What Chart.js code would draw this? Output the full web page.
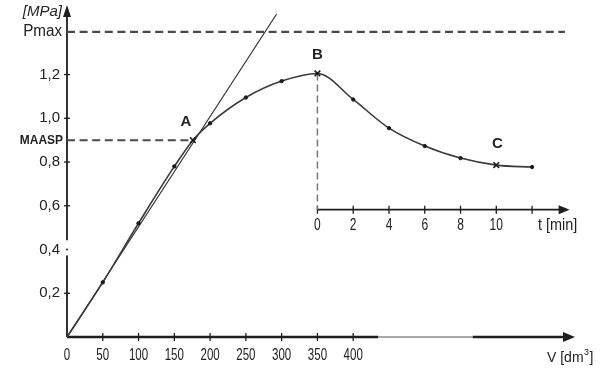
<!DOCTYPE html>
<html><head><meta charset="utf-8">
<script src="https://cdn.jsdelivr.net/npm/chart.js@4/dist/chart.umd.min.js"></script>
<style>html,body{margin:0;padding:0;background:#fff;}#wrap{width:600px;height:378px;}</style>
</head><body><div id="wrap"><canvas id="c" width="600" height="378"></canvas></div>
<script>
// ---- data ----
const fillVolume = [0, 50, 100, 150, 176, 200, 250, 300, 350];
const fillPressure = [0, 0.25, 0.52, 0.78, 0.90, 0.977, 1.095, 1.17, 1.205];
const shutInTime = [2, 4, 6, 8, 10, 12];
const shutInPressure = [1.086, 0.955, 0.873, 0.818, 0.786, 0.777];
const tangentVolume = [0, 293];
const tangentPressure = [0, 1.477];
const volumeTicks = [0, 50, 100, 150, 200, 250, 300, 350, 400];
const pressureTicks = [0.2, 0.4, 0.6, 0.8, 1.0, 1.2];
const pressureTickLabels = ['0,2', '0,4', '0,6', '0,8', '1,0', '1,2'];
const timeTicks = [0, 2, 4, 6, 8, 10, 12];
const timeTickLabels = ['0', '2', '4', '6', '8', '10', ''];
const pMax = 1.395;
const maasp = 0.9;
const markerLabels = ['A', 'B', 'C'];

// ---- construction constants ----
const V_MAX = 710, P_MAX_AXIS = 1.518;
const SHUT_IN_VOLUME = 350;     // t = 0 sits under B
const DM3_PER_MIN = 25;         // 2 min spacing == 50 dm3 spacing
const TIME_AXIS_P = 0.582;      // pressure level of the inset time axis
const A_INDEX = 4, B_INDEX = 8, C_INDEX = 8 + 5;

const curve = fillVolume.map((v, i) => ({x: v, y: fillPressure[i]}))
  .concat(shutInTime.map((t, i) => ({x: SHUT_IN_VOLUME + t * DM3_PER_MIN, y: shutInPressure[i]})));
const isCross = i => i === A_INDEX || i === B_INDEX || i === C_INDEX;
const pStyle = curve.map((_, i) => isCross(i) ? 'crossRot' : 'circle');
const pRadius = curve.map((_, i) => i === 0 ? 0 : (isCross(i) ? 4 : 1.7));
const pBorderW = curve.map((_, i) => isCross(i) ? 1.6 : 1);

const FONT = '"Liberation Sans", Arial, sans-serif';
const TXT = '#222';

function text(ctx, s, x, y, font, align, sx) {
  ctx.save();
  ctx.font = font; ctx.fillStyle = TXT;
  ctx.textAlign = align || 'center'; ctx.textBaseline = 'middle';
  ctx.translate(x, y); ctx.scale(sx || 1, 1);
  ctx.fillText(s, 0, 0);
  ctx.restore();
}

const axesPlugin = {
  id: 'axesPlugin',
  beforeDatasetsDraw(chart) {
    const ctx = chart.ctx, xs = chart.scales.x, ys = chart.scales.y, xt = chart.scales.xt;
    const x0 = xs.getPixelForValue(0), y0 = ys.getPixelForValue(0);
    const yTop = ys.getPixelForValue(P_MAX_AXIS);
    const xEnd = xs.getPixelForValue(V_MAX);
    ctx.save();
    ctx.strokeStyle = '#1e1e1e'; ctx.fillStyle = '#1e1e1e'; ctx.lineCap = 'butt';
    // y axis (with the small break at 0,4 seen in the reference)
    ctx.lineWidth = 1.8;
    ctx.beginPath();
    ctx.moveTo(x0, y0); ctx.lineTo(x0, ys.getPixelForValue(0.373));
    ctx.moveTo(x0, ys.getPixelForValue(0.442)); ctx.lineTo(x0, yTop + 10);
    ctx.stroke();
    ctx.beginPath(); ctx.moveTo(x0, yTop); ctx.lineTo(x0 - 4, yTop + 12); ctx.lineTo(x0 + 4, yTop + 12); ctx.closePath(); ctx.fill();
    // y ticks
    ctx.lineWidth = 1.3;
    pressureTicks.forEach((p, i) => {
      const y = ys.getPixelForValue(p);
      ctx.beginPath();
      if (p === 0.4) { ctx.arc(x0, y, 1, 0, Math.PI * 2); ctx.fill(); }
      else { ctx.moveTo(x0 - 3, y); ctx.lineTo(x0 + 3, y); ctx.stroke(); }
    });
    // x axis: thick / thin / thick as in the scan
    const xa = xs.getPixelForValue(435), xb = xs.getPixelForValue(567);
    ctx.lineWidth = 2.4;
    ctx.beginPath(); ctx.moveTo(x0, y0); ctx.lineTo(xa, y0); ctx.moveTo(xb, y0); ctx.lineTo(xEnd - 10, y0); ctx.stroke();
    ctx.lineWidth = 1.1; ctx.strokeStyle = '#555';
    ctx.beginPath(); ctx.moveTo(xa, y0); ctx.lineTo(xb, y0); ctx.stroke();
    ctx.strokeStyle = '#1e1e1e';
    ctx.beginPath(); ctx.moveTo(xEnd, y0); ctx.lineTo(xEnd - 12, y0 - 5); ctx.lineTo(xEnd - 12, y0 + 5); ctx.closePath(); ctx.fill();
    ctx.lineWidth = 1.3;
    volumeTicks.forEach(v => {
      if (v === 0) return;
      const x = xs.getPixelForValue(v);
      ctx.beginPath(); ctx.moveTo(x, y0 - 4); ctx.lineTo(x, y0 + 4); ctx.stroke();
    });
    // inset time axis
    const ty = ys.getPixelForValue(TIME_AXIS_P);
    const tx0 = xt.getPixelForValue(0);
    const txEnd = xt.getPixelForValue(14.1);
    ctx.lineWidth = 1.8;
    ctx.beginPath(); ctx.moveTo(tx0, ty); ctx.lineTo(txEnd - 8, ty); ctx.stroke();
    ctx.beginPath(); ctx.moveTo(txEnd, ty); ctx.lineTo(txEnd - 11, ty - 4.5); ctx.lineTo(txEnd - 11, ty + 4.5); ctx.closePath(); ctx.fill();
    ctx.lineWidth = 1.3;
    timeTicks.forEach(t => {
      const x = xt.getPixelForValue(t);
      ctx.beginPath(); ctx.moveTo(x, ty - 4); ctx.lineTo(x, ty + 4); ctx.stroke();
    });
    ctx.restore();
  },
  afterDatasetsDraw(chart) {
    const ctx = chart.ctx, xs = chart.scales.x, ys = chart.scales.y, xt = chart.scales.xt;
    const x0 = xs.getPixelForValue(0), y0 = ys.getPixelForValue(0);
    const f = '15px ' + FONT;
    const fc = '16px ' + FONT;
    // y labels
    pressureTicks.forEach((p, i) => text(ctx, pressureTickLabels[i], x0 - 7, ys.getPixelForValue(p), f, 'right'));
    text(ctx, 'Pmax', x0 - 5, ys.getPixelForValue(pMax), '16px ' + FONT, 'right', 0.95);
    text(ctx, 'MAASP', x0 - 4, ys.getPixelForValue(maasp), 'bold 13px ' + FONT, 'right', 0.92);
    text(ctx, '[MPa]', x0 - 5, 12, 'italic 15px ' + FONT, 'right', 1.0);
    // x labels (condensed)
    volumeTicks.forEach(v => text(ctx, String(v), xs.getPixelForValue(v), y0 + 19, fc, 'center', 0.72));
    // V [dm3]
    ctx.save();
    ctx.font = '14px ' + FONT; ctx.fillStyle = TXT; ctx.textAlign = 'left'; ctx.textBaseline = 'middle';
    const vx = 547, vy = y0 + 21;
    ctx.fillText('V [dm', vx, vy);
    const w1 = ctx.measureText('V [dm').width;
    ctx.font = '9px ' + FONT; ctx.fillText('3', vx + w1 + 0.5, vy - 5);
    const w2 = ctx.measureText('3').width;
    ctx.font = '14px ' + FONT; ctx.fillText(']', vx + w1 + w2 + 1, vy);
    ctx.restore();
    // time labels (condensed)
    const ty = ys.getPixelForValue(TIME_AXIS_P);
    timeTicks.forEach((t, i) => text(ctx, timeTickLabels[i], xt.getPixelForValue(t), ty + 16, fc, 'center', 0.75));
    text(ctx, 't [min]', 538, ty + 16, fc, 'left', 0.9);
    // point labels A, B, C
    const ds = chart.getDatasetMeta(0).data;
    const bf = 'bold 15px ' + FONT;
    text(ctx, markerLabels[0], ds[A_INDEX].x - 7, ds[A_INDEX].y - 18, bf);
    text(ctx, markerLabels[1], ds[B_INDEX].x, ds[B_INDEX].y - 19, bf);
    text(ctx, markerLabels[2], ds[C_INDEX].x + 1, ds[C_INDEX].y - 21, bf);
  }
};

new Chart(document.getElementById('c'), {
  type: 'line',
  data: {
    datasets: [
      {
        data: curve, borderColor: '#3a3a3a', borderWidth: 1.6,
        cubicInterpolationMode: 'monotone',
        pointStyle: pStyle, pointRadius: pRadius, pointBorderWidth: pBorderW,
        pointBackgroundColor: '#1a1a1a', pointBorderColor: '#1a1a1a', order: 0
      },
      {
        data: tangentVolume.map((v, i) => ({x: v, y: tangentPressure[i]})),
        borderColor: '#333', borderWidth: 1.2, pointRadius: 0, tension: 0
      },
      {
        data: [{x: 0, y: pMax}, {x: 696, y: pMax}],
        borderColor: '#4a4a4a', borderWidth: 2.2, borderDash: [8, 4.6], pointRadius: 0
      },
      {
        data: [{x: 0, y: maasp}, {x: fillVolume[A_INDEX], y: maasp}],
        borderColor: '#4a4a4a', borderWidth: 2, borderDash: [8, 4.6], pointRadius: 0
      },
      {
        data: [{x: fillVolume[B_INDEX], y: fillPressure[B_INDEX]}, {x: fillVolume[B_INDEX], y: TIME_AXIS_P}],
        borderColor: '#777', borderWidth: 1.5, borderDash: [7, 4], pointRadius: 0
      }
    ]
  },
  options: {
    responsive: false, animation: false, devicePixelRatio: 1,
    layout: {padding: {left: 67, right: 25, top: 3, bottom: 41}},
    plugins: {legend: {display: false}, tooltip: {enabled: false}},
    scales: {
      x: {type: 'linear', min: 0, max: V_MAX, display: false},
      xt: {type: 'linear', axis: 'x', min: -SHUT_IN_VOLUME / DM3_PER_MIN, max: (V_MAX - SHUT_IN_VOLUME) / DM3_PER_MIN, display: false},
      y: {type: 'linear', min: 0, max: P_MAX_AXIS, display: false}
    }
  },
  plugins: [axesPlugin]
});
</script>
</body></html>
